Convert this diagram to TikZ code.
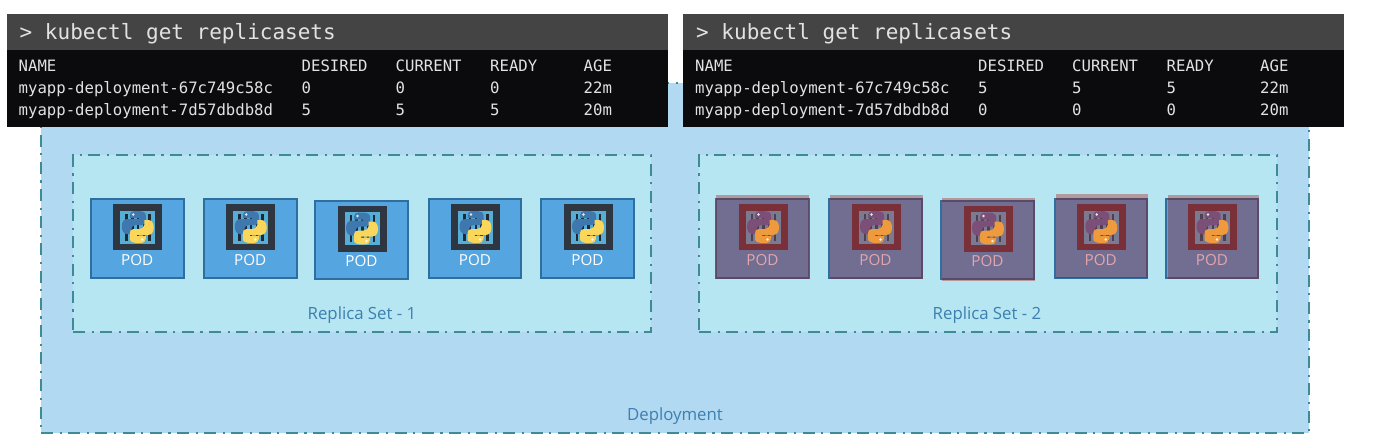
\documentclass[tikz,border=0pt]{standalone}
\usepackage{fontspec}
\setmainfont{Open Sans}
\setmonofont{DejaVu Sans Mono}
\definecolor{depfill}{HTML}{B2D9F2}
\definecolor{rsfill}{HTML}{B5E6F2}
\definecolor{dashc}{HTML}{3F8B95}
\definecolor{podfill}{HTML}{55A5E0}
\definecolor{podedge}{HTML}{2F6FA0}
\definecolor{lbl}{HTML}{3D7FAE}
\definecolor{termhead}{HTML}{444444}
\definecolor{termbody}{HTML}{0B0B0D}
\definecolor{termtext}{HTML}{E2E2E2}
\definecolor{overlayred}{RGB}{170,10,0}
\definecolor{pinktext}{HTML}{E4A4AC}
\definecolor{framea}{HTML}{2D3641}
\definecolor{frameb}{HTML}{7A3038}
\definecolor{innera}{HTML}{56AED6}
\definecolor{innerb}{HTML}{7A7B92}
\definecolor{bara}{HTML}{1C2A38}
\definecolor{barb}{HTML}{50404F}
\definecolor{snakea}{HTML}{3F78AE}
\definecolor{snakeb}{HTML}{FAD65A}
\definecolor{snakec}{HTML}{7C4F78}
\definecolor{snaked}{HTML}{F09A3E}
\tikzset{
  x=1pt,y=-1pt,
  box/.style={rectangle,inner sep=0pt,outer sep=0pt},
  dd/.style={box,draw=dashc,line width=2.4pt,dash pattern=on 12pt off 6.5pt on 2.2pt off 6.5pt},
  podbox/.style={box,fill=podfill,draw=podedge,line width=2pt},
  redbox/.style={box,fill=overlayred,fill opacity=.35},
  poda/.style={text=white,font=\fontsize{15.2}{17}\selectfont},
  podb/.style={text=pinktext,font=\fontsize{15.2}{17}\selectfont},
  rslabel/.style={text=lbl,font=\fontsize{16.8}{20}\selectfont},
  cmd/.style={text=termtext,anchor=base west,inner sep=0pt,font=\ttfamily\fontsize{21}{24}\selectfont},
  cell/.style={text=termtext,anchor=base west,inner sep=0pt,font=\ttfamily\fontsize{15.65}{18}\selectfont},
}
% rectangle node from corners
\newcommand{\rectnode}[6]{\node[#1,minimum width={(#5-(#3))*1pt},minimum height={(#6-(#4))*1pt}] (#2) at ({(#3+#5)/2},{(#4+#6)/2}) {};}
% container icon with python logo: centre x,y, frame, inner, bar, snake1, snake2
\newcommand{\conticon}[7]{%
  \begin{scope}[shift={({#1},{#2})}]
    \fill[#3] (-24.5,-23) rectangle (24.5,23);
    \fill[#4] (-17.5,-16.5) rectangle (17.5,16.5);
    \foreach \bx in {-12.5,-6.8,-1,4.8,10.5}
      \fill[#5] (\bx,-13.5) rectangle ++(2.6,27);
    \begin{scope}[scale=1]
      \fill[#6] (-.5,-16) .. controls (-6,-16) and (-8,-15) .. (-8,-12) -- (-8,-9) -- (1,-9) -- (1,-8) -- (-10,-8)
        .. controls (-14,-8) and (-16,-5) .. (-16,-.5) .. controls (-16,4) and (-14,7) .. (-10.5,7) -- (-6.5,7) -- (-6.5,2)
        .. controls (-6.5,-.5) and (-4,-2) .. (-1.5,-2) -- (4,-2) .. controls (6.5,-2) and (8,-3.5) .. (8,-6) -- (8,-12)
        .. controls (8,-15) and (4,-16) .. (-.5,-16) -- cycle;
      \fill[#7,rotate=180] (-.5,-16) .. controls (-6,-16) and (-8,-15) .. (-8,-12) -- (-8,-9) -- (1,-9) -- (1,-8) -- (-10,-8)
        .. controls (-14,-8) and (-16,-5) .. (-16,-.5) .. controls (-16,4) and (-14,7) .. (-10.5,7) -- (-6.5,7) -- (-6.5,2)
        .. controls (-6.5,-.5) and (-4,-2) .. (-1.5,-2) -- (4,-2) .. controls (6.5,-2) and (8,-3.5) .. (8,-6) -- (8,-12)
        .. controls (8,-15) and (4,-16) .. (-.5,-16) -- cycle;
      \fill[white!85!#6] (-4.5,-12.5) circle (1.3);
      \fill[white!85!#7] (4.5,12.5) circle (1.3);
    \end{scope}
  \end{scope}}
% name, x0,y0,x1,y1
\newcommand{\podleft}[5]{%
  \rectnode{podbox}{#1}{#2}{#3}{#4}{#5}
  \conticon{(#2+#4)/2+.5}{#3+28}{framea}{innera}{bara}{snakea}{snakeb}
  \node[poda] (#1t) at ({(#2+#4)/2},{#3+61}) {POD};}
% name, x0,y0,x1,y1, then overlay x0,y0,x1,y1
\newcommand{\podright}[9]{%
  \rectnode{podbox}{#1}{#2}{#3}{#4}{#5}
  \rectnode{redbox}{#1r}{#6}{#7}{#8}{#9}
  \conticon{(#2+#4)/2+.5}{#3+28}{frameb}{innerb}{barb}{snakec}{snaked}
  \node[podb] (#1t) at ({(#2+#4)/2},{#3+61}) {POD};}
% terminal: name, x offset, first-row value, second-row value
\newcommand{\terminal}[4]{%
  \rectnode{box,fill=termbody}{#1b}{#2}{50}{#2+661}{127}
  \rectnode{box,fill=termhead}{#1h}{#2}{14}{#2+661}{50}
  \node[cmd] (#1c) at ({#2+13},39) {> kubectl get replicasets};
  \node[cell] (#1a) at ({#2+12},71.5) {NAME};
  \node[cell] (#1d) at ({#2+295},71.5) {DESIRED};
  \node[cell] (#1e) at ({#2+389},71.5) {CURRENT};
  \node[cell] (#1f) at ({#2+483.5},71.5) {READY};
  \node[cell] (#1g) at ({#2+577},71.5) {AGE};
  \node[cell] (#1i) at ({#2+12},93.5) {myapp-deployment-67c749c58c};
  \node[cell] (#1j) at ({#2+12},115.5) {myapp-deployment-7d57dbdb8d};
  \node[cell] (#1k) at ({#2+295},93.5) {#3};
  \node[cell] (#1l) at ({#2+389},93.5) {#3};
  \node[cell] (#1m) at ({#2+483.5},93.5) {#3};
  \node[cell] (#1n) at ({#2+577},93.5) {22m};
  \node[cell] (#1o) at ({#2+295},115.5) {#4};
  \node[cell] (#1p) at ({#2+389},115.5) {#4};
  \node[cell] (#1q) at ({#2+483.5},115.5) {#4};
  \node[cell] (#1r) at ({#2+577},115.5) {20m};}
\begin{document}
\begin{tikzpicture}
\useasboundingbox (0,0) rectangle (1377,447);
\fill[white] (0,0) rectangle (1377,447);
\rectnode{dd,fill=depfill}{deploy}{41}{83}{1309}{433}
\node[rslabel] (deployt) at (675,416) {Deployment};
\rectnode{dd,fill=rsfill}{rsa}{73}{155}{651}{332}
\node[rslabel] (rsat) at (362,315) {Replica Set - 1};
\rectnode{dd,fill=rsfill}{rsb}{699}{155}{1277}{332}
\node[rslabel] (rsbt) at (987,315) {Replica Set - 2};
\podleft{la}{91}{199}{183.5}{277.5}
\podleft{lb}{204}{199}{296.5}{277.5}
\podleft{lc}{315}{200.5}{408}{278.5}
\podleft{ld}{429}{199}{521}{277.5}
\podleft{le}{541}{199}{634}{277.5}
\podright{ra}{716}{199}{809}{277.5}{716}{195}{809}{278.5}
\podright{rb}{829}{199}{922}{277.5}{830}{195}{922.5}{278.5}
\podright{rc}{941}{200.5}{1034}{278.5}{942}{197.5}{1034.5}{281}
\podright{rd}{1054.5}{199}{1147}{277.5}{1056}{194}{1148}{278}
\podright{re}{1166}{199}{1258}{277.5}{1168}{195}{1258.5}{279}
\terminal{ta}{6.5}{0}{5}
\terminal{tb}{683}{5}{0}
\end{tikzpicture}
\end{document}
